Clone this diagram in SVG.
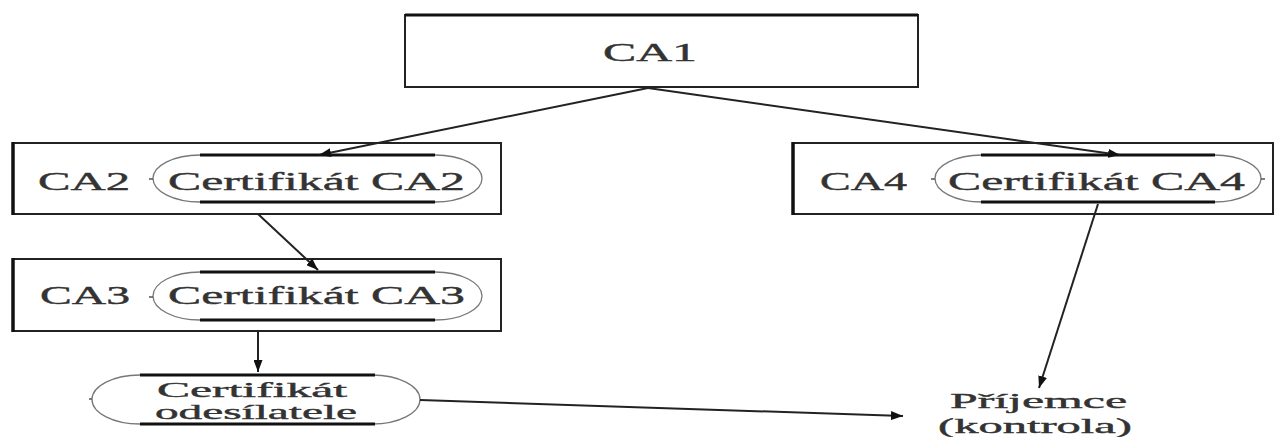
<svg xmlns="http://www.w3.org/2000/svg" width="1278" height="437" viewBox="0 0 1278 437">
  <defs>
    <marker id="arrow" viewBox="0 0 12 9" refX="12" refY="4.5" markerWidth="12" markerHeight="9" markerUnits="userSpaceOnUse" orient="auto">
      <path d="M0,0 L12,4.5 L0,9 Z" fill="#111"/>
    </marker>
  </defs>
  <style>
    .box { fill: #fff; stroke: #222; stroke-width: 2; }
    .edge { stroke: #111; stroke-width: 3.5; }
    .pill { fill: none; stroke: #777; stroke-width: 1.3; }
    .bar { stroke: #111; stroke-width: 3; }
    .tick { stroke: #555; stroke-width: 1.5; }
    .lbl { font-family: "Liberation Serif", "DejaVu Serif", serif; font-size: 26px; fill: #333; stroke: #333; stroke-width: 0.4; }
    .sm { font-size: 21px; }
    .conn { stroke: #222; stroke-width: 2; fill: none; marker-end: url(#arrow); }
  </style>
  <rect width="1278" height="437" fill="#fff"/>

  <g id="ca1">
    <rect class="box" x="405" y="15" width="513" height="72"/>
    <line class="edge" x1="405" y1="15" x2="918" y2="15" style="stroke-width:3"/>
    <text class="lbl" x="603" y="61" textLength="94" lengthAdjust="spacingAndGlyphs">CA1</text>
  </g>

  <g id="ca2">
    <rect class="box" x="13" y="143" width="488" height="71"/>
    <line class="edge" x1="13" y1="142" x2="13" y2="215"/>
    <text class="lbl" x="38" y="190" textLength="92" lengthAdjust="spacingAndGlyphs">CA2</text>
    <rect class="pill" x="153" y="155" width="329" height="47" rx="47" ry="23.5"/>
    <line class="bar" x1="200" y1="155" x2="435" y2="155"/>
    <line class="bar" x1="200" y1="202" x2="435" y2="202"/>
    <line class="tick" x1="149" y1="179" x2="153" y2="179"/>
    <text class="lbl" x="168" y="190" textLength="297" lengthAdjust="spacingAndGlyphs">Certifikát CA2</text>
  </g>

  <g id="ca3">
    <rect class="box" x="13" y="259" width="488" height="72"/>
    <line class="edge" x1="13" y1="258" x2="13" y2="332"/>
    <text class="lbl" x="40" y="304" textLength="90" lengthAdjust="spacingAndGlyphs">CA3</text>
    <rect class="pill" x="153" y="272" width="329" height="48" rx="47" ry="24"/>
    <line class="bar" x1="200" y1="272" x2="435" y2="272"/>
    <line class="bar" x1="200" y1="320" x2="435" y2="320"/>
    <line class="tick" x1="149" y1="297" x2="153" y2="297"/>
    <text class="lbl" x="168" y="304" textLength="297" lengthAdjust="spacingAndGlyphs">Certifikát CA3</text>
  </g>

  <g id="ca4">
    <rect class="box" x="793" y="143" width="480" height="71"/>
    <line class="edge" x1="793" y1="142" x2="793" y2="215"/>
    <text class="lbl" x="820" y="190" textLength="87" lengthAdjust="spacingAndGlyphs">CA4</text>
    <rect class="pill" x="935" y="155" width="326" height="47" rx="47" ry="23.5"/>
    <line class="bar" x1="981" y1="155" x2="1215" y2="155"/>
    <line class="bar" x1="981" y1="202" x2="1215" y2="202"/>
    <line class="tick" x1="931" y1="179" x2="935" y2="179"/>
    <line class="tick" x1="1261" y1="179" x2="1265" y2="179"/>
    <text class="lbl" x="948" y="190" textLength="297" lengthAdjust="spacingAndGlyphs">Certifikát CA4</text>
  </g>

  <g id="sender-cert">
    <rect class="pill" x="92" y="375" width="328" height="49" rx="48" ry="24.5"/>
    <line class="bar" x1="140" y1="375" x2="375" y2="375"/>
    <line class="bar" x1="140" y1="424" x2="375" y2="424"/>
    <line class="tick" x1="89" y1="399" x2="92" y2="399"/>
    <text class="lbl sm" x="157" y="397" textLength="190" lengthAdjust="spacingAndGlyphs">Certifikát</text>
    <text class="lbl sm" x="155" y="419" textLength="202" lengthAdjust="spacingAndGlyphs">odesílatele</text>
  </g>

  <g id="recipient">
    <text class="lbl sm" x="950" y="408" textLength="177" lengthAdjust="spacingAndGlyphs">Příjemce</text>
    <text class="lbl sm" x="938" y="433" textLength="194" lengthAdjust="spacingAndGlyphs">(kontrola)</text>
  </g>

  <g id="connectors">
    <line class="conn" x1="648" y1="88" x2="319" y2="155"/>
    <line class="conn" x1="648" y1="88" x2="1120" y2="155"/>
    <line class="conn" x1="258" y1="214" x2="318" y2="270"/>
    <line class="conn" x1="258" y1="331" x2="258" y2="372"/>
    <line class="conn" x1="1098" y1="204" x2="1039" y2="388"/>
    <line class="conn" x1="420" y1="400" x2="903" y2="416"/>
  </g>
</svg>
